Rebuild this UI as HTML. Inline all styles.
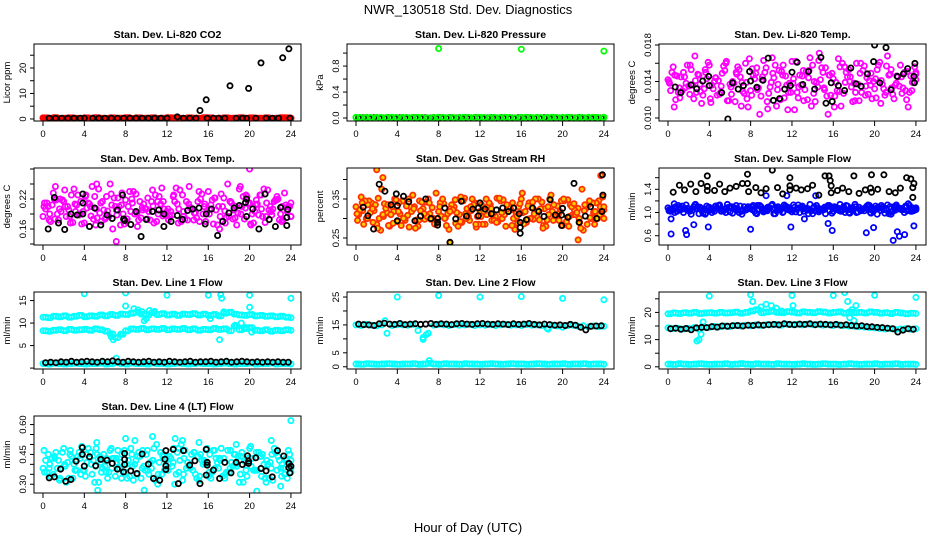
<!DOCTYPE html>
<html><head><meta charset="utf-8">
<style>
html,body{margin:0;padding:0;background:#fff;}
svg{display:block;font-family:"Liberation Sans",Arial,sans-serif;}
</style></head>
<body>
<svg id="chart" width="936" height="540" viewBox="0 0 936 540" xmlns="http://www.w3.org/2000/svg">
<rect width="936" height="540" fill="#fff"/>
<text x="468" y="14" font-size="13" text-anchor="middle">NWR_130518 Std. Dev. Diagnostics</text>
<text x="468" y="532" font-size="13" text-anchor="middle">Hour of Day (UTC)</text>
</svg>
<script>
// ---- time categories ----
const tHalf = []; for (let i = 0; i <= 48; i++) tHalf.push(i / 2);
const tQ = []; for (let i = 0; i < 48; i++) tQ.push(i / 2 + 0.25);
const tC = []; for (let i = 0; i <= 48; i++) tC.push(Math.min(24, i / 2 + 0.15));
const tD = []; for (let i = 0; i <= 48; i++) tD.push(Math.min(24, i / 2 + 0.38));
const tE = []; for (let i = 0; i < 48; i++) tE.push(i / 2 + 0.1);
const xTicks = [0, 4, 8, 12, 16, 20, 24];

// ---- P1 CO2 ----
const co2Red = [0.4,0.3,0.5,0.2,0.3,0.4,0.3,0.2,0.4,0.3,0.5,0.3,0.2,0.4,0.3,0.3,0.5,0.2,0.4,0.3,0.3,0.4,0.2,0.3,0.5,0.4,0.3,0.2,0.4,0.3,0.3,0.5,0.4,0.2,0.3,0.4,0.3,0.3,0.5,0.2,0.4,0.3,0.3,0.4,0.2,0.3,0.5,0.4,0.3];
const co2BlkT = [0.6,1.2,1.8,2.4,3,3.6,4,4.8,5.4,6,6.6,7.2,7.8,8.4,9,9.6,10.2,10.8,11.4,12,13,13.6,14.2,14.8,15.2,15.8,15.9,16.5,17,17.6,18.1,18.7,19.3,19.9,19.7,20.6,21.1,21.6,22.2,22.8,23.2,23.8,23.9];
const co2BlkV = [0.3,0.3,0.3,0.3,0.3,0.3,0.3,0.3,0.3,0.3,0.3,0.3,0.3,0.3,0.3,0.3,0.3,0.3,0.3,0.3,0.8,0.3,0.3,0.3,3.3,7.5,0.3,0.3,0.3,0.3,13,0.3,0.3,12,0.3,0.3,22,0.3,0.3,0.3,24,27.5,0.3];

// ---- P2 Pressure ----
const prGreen = [0.01,0.005,0.01,0.0,0.01,0.005,0.01,0.01,0.0,0.01,0.005,0.01,0.01,0.005,0.0,0.01,0.01,0.005,0.01,0.0,0.01,0.01,0.005,0.01,0.01,0.0,0.01,0.005,0.01,0.01,0.005,0.0,0.01,0.01,0.005,0.01,0.0,0.01,0.01,0.005,0.01,0.01,0.0,0.01,0.005,0.01,0.01,0.005,0.01];
const prBlk = [0.0,0.005,0.0,0.005,0.0,0.0,0.005,0.0,0.005,0.0,0.0,0.005,0.0,0.005,0.0,0.0,0.005,0.0,0.005,0.0,0.0,0.005,0.0,0.005,0.0,0.0,0.005,0.0,0.005,0.0,0.0,0.005,0.0,0.005,0.0,0.0,0.005,0.0,0.005,0.0,0.0,0.005,0.0,0.005,0.0,0.0,0.005,0.0];
const prOutT = [0, 8, 16, 24];
const prOutV = [0.01, 1.07, 1.06, 1.03];

// ---- P3 Temp ----
const tmpA = [.0142,.0156,.0128,.0150,.0135,.0121,.0147,.0132,.0158,.0140,.0126,.0152,.0137,.0118,.0145,.0160,.0130,.0149,.0124,.0155,.0139,.0113,.0151,.0136,.0162,.0128,.0146,.0120,.0158,.0134,.0150,.0104,.0143,.0165,.0127,.0153,.0138,.0119,.0157,.0141,.0132,.0161,.0125,.0148,.0136,.0158,.0130,.0146,.0150];
const tmpB = [.0130,.0120,.0145,.0138,.0153,.0128,.0116,.0143,.0136,.0125,.0149,.0119,.0140,.0156,.0129,.0112,.0147,.0133,.0163,.0127,.0144,.0152,.0122,.0138,.0109,.0147,.0131,.0166,.0118,.0142,.0155,.0125,.0139,.0113,.0150,.0134,.0160,.0128,.0144,.0121,.0153,.0137,.0168,.0126,.0145,.0133,.0112,.0140];
const tmpC = [.0138,.0147,.0122,.0133,.0158,.0141,.0129,.0150,.0117,.0144,.0135,.0162,.0126,.0148,.0139,.0121,.0154,.0131,.0145,.0110,.0149,.0137,.0158,.0128,.0143,.0134,.0119,.0152,.0140,.0171,.0131,.0147,.0124,.0156,.0139,.0145,.0128,.0160,.0135,.0149,.0122,.0141,.0157,.0133,.0146,.0127,.0151,.0139,.0148];
const tmpBlkT = [0.7,1.24,2.24,2.78,3.36,3.94,4.0,5.2,5.8,6.25,6.8,7.3,7.9,8.0,8.6,9.2,9.7,10.2,10.8,11.3,11.85,12.0,12.5,13.05,13.6,14.2,14.8,15.3,15.8,15.9,16.5,17.1,17.7,18.2,18.7,19.3,19.9,20.0,20.5,21.1,21.6,22.2,22.8,23.2,23.8,23.85,23.9];
const tmpBlkV = [.0134,.01278,.01363,.0132,.01405,.01456,.01355,.01278,.00989,.01386,.01317,.01355,.0151,.01405,.01336,.01413,.01656,.01193,.01212,.01317,.01355,.01502,.0161,.01367,.0151,.01317,.01664,.01162,.01386,.01181,.01355,.01301,.01548,.01375,.01347,.01483,.01618,.018,.01386,.01772,.01309,.01456,.01483,.01541,.01456,.01386,.01598];

// ---- P4 Amb Box Temp ----
const ambA = [.185,.205,.232,.178,.215,.198,.240,.188,.172,.210,.225,.192,.180,.250,.205,.168,.218,.195,.230,.182,.200,.215,.175,.242,.195,.188,.210,.228,.178,.200,.215,.190,.235,.170,.205,.222,.185,.198,.240,.180,.212,.195,.228,.173,.205,.218,.190,.208,.212];
const ambB = [.200,.175,.218,.195,.185,.228,.208,.170,.202,.245,.182,.215,.196,.160,.222,.190,.205,.235,.178,.210,.195,.172,.225,.200,.186,.215,.238,.180,.203,.192,.220,.175,.208,.198,.230,.183,.212,.168,.205,.225,.190,.210,.185,.238,.200,.220,.178,.205];
const ambC = [.212,.190,.180,.220,.205,.172,.195,.215,.228,.186,.200,.175,.225,.208,.188,.232,.180,.212,.165,.198,.222,.206,.190,.215,.178,.228,.200,.185,.245,.192,.175,.210,.200,.222,.185,.172,.215,.205,.190,.228,.168,.218,.200,.212,.188,.225,.205,.195,.185];
const ambBlkT = [0.5,1.1,1.5,2.1,2.7,3.3,3.85,3.85,3.85,4.5,5.0,5.6,6.2,6.7,7.2,7.7,7.8,7.9,8.5,9.0,9.5,10.0,10.6,11.2,11.7,11.7,12.4,13.0,13.5,14.0,14.5,15.1,15.7,15.8,16.3,16.9,17.4,18.0,18.5,19.0,19.6,19.7,19.7,20.3,20.9,21.5,21.9,22.5,23.0,23.7,23.6,23.6];
const ambBlkV = [.160,.223,.172,.159,.190,.188,.230,.212,.190,.165,.202,.168,.188,.181,.198,.228,.180,.177,.169,.195,.145,.179,.195,.198,.190,.165,.175,.187,.179,.197,.200,.202,.170,.190,.200,.147,.175,.192,.202,.207,.213,.185,.220,.200,.160,.230,.179,.165,.203,.199,.183,.167];
const ambOutT = [20.0, 7.1, 5.2, 1.2];
const ambOutV = [.280, .135, .250, .245];

// ---- P5 Gas Stream RH ----
const rhA = [.330,.355,.300,.340,.285,.375,.315,.330,.292,.345,.308,.360,.280,.325,.350,.300,.318,.338,.272,.330,.310,.352,.295,.340,.318,.285,.335,.305,.345,.280,.322,.312,.350,.290,.328,.305,.342,.296,.318,.332,.282,.348,.310,.326,.270,.335,.315,.345,.322];
const rhB = [.310,.285,.345,.320,.300,.338,.280,.350,.312,.295,.330,.275,.320,.342,.298,.365,.306,.282,.335,.315,.290,.325,.350,.305,.285,.330,.312,.292,.348,.318,.300,.330,.286,.340,.312,.296,.325,.350,.300,.318,.288,.335,.310,.275,.325,.300,.340,.312];
const rhC = [.295,.320,.335,.290,.352,.305,.282,.318,.340,.300,.278,.330,.345,.298,.312,.285,.340,.302,.325,.288,.355,.300,.320,.278,.335,.310,.295,.352,.300,.325,.340,.288,.315,.332,.298,.350,.282,.310,.335,.295,.345,.305,.322,.290,.335,.302,.318,.330,.300];
const rhBlkT = [0.7,1.15,1.7,2.25,2.8,3.4,3.9,4.0,4.0,4.6,5.1,5.7,6.25,6.75,7.25,7.9,7.9,7.9,8.6,9.1,9.65,10.2,10.7,11.3,11.85,12.0,11.85,12.5,13.1,13.6,14.2,14.75,15.25,15.8,15.9,15.9,15.9,16.5,17.1,17.7,18.2,18.8,19.3,19.9,20.0,19.9,20.5,21.1,21.6,22.2,22.7,23.3,23.85,23.9,23.8];
const rhBlkV = [.329,.307,.273,.388,.370,.335,.363,.333,.294,.357,.343,.294,.306,.350,.300,.300,.290,.283,.327,.239,.299,.344,.306,.324,.327,.340,.307,.324,.312,.322,.327,.318,.327,.312,.290,.277,.262,.297,.327,.318,.305,.348,.309,.309,.326,.282,.303,.390,.290,.306,.330,.300,.412,.360,.318];
const rhOutT = [2.0, 23.7, 2.6, 9.1, 21.5];
const rhOutV = [.425, .410, .405, .238, .245];

// ---- P6 Sample Flow ----
const sfA = [1.08,1.04,1.12,1.00,1.06,1.10,0.98,1.05,1.09,1.02,1.13,1.06,1.01,1.08,1.11,1.04,1.07,0.99,1.10,1.05,1.12,1.03,1.07,1.09,1.01,1.06,1.11,1.04,0.98,1.08,1.05,1.12,1.02,1.07,1.10,1.00,1.06,1.09,1.03,1.12,1.05,1.08,0.99,1.10,1.04,1.07,1.11,1.02,1.06];
const sfB = [1.02,1.10,1.05,1.13,0.97,1.07,1.04,1.11,1.00,1.08,1.05,1.14,0.99,1.06,1.03,1.10,1.12,1.05,1.01,1.08,0.98,1.06,1.13,1.04,1.09,1.00,1.07,1.14,1.03,1.06,0.98,1.10,1.05,1.02,1.12,1.08,1.00,1.06,1.11,1.04,0.97,1.09,1.13,1.02,1.07,1.05,1.15,1.03];
const sfC = [1.05,1.00,1.09,1.06,1.03,1.14,1.08,0.99,1.06,1.11,1.02,1.08,1.10,1.04,0.97,1.07,1.05,1.12,1.03,1.09,1.06,1.10,1.01,1.05,1.13,1.08,1.02,1.06,1.10,1.04,1.09,1.03,1.07,1.14,1.00,1.05,1.10,1.03,1.08,0.99,1.07,1.12,1.05,1.01,1.10,1.06,1.03,1.08,1.05];
const sfOutT = [0.3,0.3,1.7,1.8,2.5,3.9,8.0,11.9,13.2,14.3,15.5,15.9,19.2,19.9,21.8,22.2,22.4,22.9,23.8,9.5,11.5];
const sfOutV = [0.63,0.89,0.69,0.62,0.79,0.75,0.71,0.75,0.89,1.29,0.81,0.69,0.65,0.74,0.52,0.67,0.59,0.62,0.77,1.29,1.29];
const sfBlkT = [0.5,1.1,1.6,2.2,2.7,3.2,3.8,3.8,3.8,4.5,5.0,5.5,6.0,6.6,7.2,7.7,7.7,7.8,8.5,9.0,9.5,10.1,10.6,11.1,11.8,11.8,11.8,12.4,12.9,13.5,14.0,14.6,15.2,15.6,15.7,15.8,15.8,16.4,16.9,17.5,18.0,18.5,19.1,19.6,19.7,19.7,20.3,20.9,21.4,22.0,22.5,23.1,23.5,23.7,23.8,23.7];
const sfBlkV = [1.35,1.47,1.39,1.49,1.36,1.50,1.45,1.63,1.38,1.38,1.49,1.36,1.42,1.45,1.50,1.66,1.50,1.36,1.43,1.34,1.41,1.73,1.43,1.32,1.60,1.46,1.39,1.42,1.39,1.41,1.47,1.30,1.63,1.63,1.55,1.46,1.34,1.38,1.42,1.36,1.63,1.33,1.39,1.42,1.65,1.35,1.40,1.65,1.36,1.34,1.42,1.60,1.58,1.26,1.50,1.43];

// ---- P7 Line 1 ----
const l1Up = [11.3,11.2,11.5,11.4,11.6,11.3,11.5,11.7,11.4,11.6,11.5,11.8,11.6,11.9,11.7,12.0,11.9,12.2,12.4,12.0,11.8,12.3,11.9,12.1,11.8,12.0,11.7,12.0,11.9,12.1,11.8,12.0,11.7,11.9,11.6,12.2,12.4,12.0,11.8,11.7,11.9,11.6,11.7,11.5,11.6,11.4,11.5,11.3,11.2];
const l1Mid = [8.3,8.2,8.4,8.5,8.3,8.6,8.4,8.5,8.6,8.4,8.7,8.5,8.2,7.6,6.8,7.5,8.3,8.7,8.6,8.8,8.5,8.7,8.6,8.8,8.5,8.7,8.6,8.8,8.5,8.7,8.4,8.6,8.5,8.8,8.6,8.7,8.3,9.3,8.5,8.8,9.0,8.4,8.3,8.5,8.2,8.4,8.3,8.5,8.4];
const l1Low = [1.0,0.9,1.1,1.0,0.9,1.0,1.1,1.0,0.9,1.0,1.0,1.1,0.9,1.0,1.2,1.0,0.9,1.1,1.0,1.0,0.9,1.1,1.0,1.0,0.9,1.0,1.1,1.0,0.9,1.0,1.1,1.0,1.0,0.9,1.0,1.1,1.0,0.9,1.0,1.0,1.1,0.9,1.0,1.0,1.1,0.9,1.0,1.0,0.9];
const l1Blk = [1.2,1.3,1.2,1.4,1.3,1.5,1.3,1.4,1.5,1.4,1.3,1.5,1.4,1.6,1.4,1.3,1.5,1.4,1.3,1.4,1.5,1.3,1.4,1.3,1.5,1.4,1.3,1.4,1.5,1.3,1.4,1.4,1.5,1.3,1.4,1.5,1.3,1.4,1.5,1.4,1.3,1.4,1.3,1.4,1.3,1.4,1.3,1.3];
const l1OutT = [4,8,12,16,17.2,17.3,20,24,17.1,8,7.1,20,8.8,9.2,9.6,10,10.3,10.8,9.8,16.2,17.5,18.6,19.2,19.6,20.2,6.6,7.6,6.8];
const l1OutV = [16.5,16.7,16.2,16.2,16.3,15.5,16.2,15.5,6.3,13.8,2.2,13.5,13.2,12.9,12.5,11,12.8,12.6,10.5,11,12.5,9.5,10,9,8,7,7.5,6.3];

// ---- P8 Line 2 ----
const l2Up = [15.0,14.8,15.2,14.9,14.7,15.0,12.0,14.8,15.1,15.0,14.9,15.2,13.0,10.5,12.0,14.9,15.2,15.0,14.8,15.1,14.9,15.0,15.2,14.8,15.0,14.9,15.1,14.8,15.0,15.2,14.9,15.0,14.8,15.1,14.9,15.0,14.8,13.8,14.9,14.6,14.2,14.8,14.9,14.5,14.7,14.3,14.6,14.4,14.5];
const l2Low = [1.0,0.9,1.1,1.0,0.9,1.0,1.1,1.0,0.9,1.0,1.0,1.1,0.9,1.0,1.2,1.0,0.9,1.1,1.0,1.0,0.9,1.1,1.0,1.0,0.9,1.0,1.1,1.0,0.9,1.0,1.1,1.0,1.0,0.9,1.0,1.1,1.0,0.9,1.0,1.0,1.1,0.9,1.0,1.0,1.1,0.9,1.0,1.0,0.9];
const l2Blk = [15.3,15.1,15.0,14.8,15.4,15.6,15.3,15.2,15.5,15.1,15.3,15.4,15.2,15.3,15.5,15.2,15.4,15.3,15.1,15.4,15.5,15.3,15.2,15.4,15.5,15.3,15.2,15.4,15.3,15.1,15.4,15.2,15.3,15.5,15.2,15.0,15.3,15.1,14.9,15.0,14.8,15.2,14.9,14.2,13.2,14.5,14.6,14.7];
const l2OutT = [4,8,12,16,20,24,7.1,2.8,18.6,6.5,6.8];
const l2OutV = [25,25.5,25,25.2,24.5,24,2.2,16.5,13.5,9.8,11.5];

// ---- P9 Line 3 ----
const l3Up = [19.5,19.8,19.6,19.9,19.7,20.0,19.6,19.8,19.9,19.7,20.0,19.8,19.9,20.1,19.7,20.0,20.5,21.0,19.9,20.2,20.4,20.0,19.9,20.3,20.1,19.8,20.2,20.0,19.9,20.3,20.1,19.8,20.0,20.2,19.7,20.1,19.9,20.0,19.8,20.2,20.0,19.7,19.9,19.6,20.0,19.8,19.5,19.7,19.6];
const l3Mid = [14.3,14.0,14.2,13.9,14.1,14.4,13.8,14.6,14.5,14.9,14.7,15.0,14.8,15.2,15.0,15.3,15.1,15.4,15.2,15.5,15.4,15.6,15.3,15.7,15.5,15.6,15.4,15.7,15.5,15.6,15.3,15.5,15.2,15.4,15.1,15.0,14.9,14.7,14.6,14.4,14.3,14.1,13.9,14.0,13.7,13.9,14.0,13.8,14.0];
const l3Low = [1.0,0.9,1.1,1.0,0.9,1.0,1.1,1.0,0.9,1.0,1.0,1.1,0.9,1.0,1.2,1.0,0.9,1.1,1.0,1.0,0.9,1.1,1.0,1.0,0.9,1.0,1.1,1.0,0.9,1.0,1.1,1.0,1.0,0.9,1.0,1.1,1.0,0.9,1.0,1.0,1.1,0.9,1.0,1.0,1.1,0.9,1.0,1.0,0.9];
const l3Blk = [14.0,14.2,13.8,14.1,13.6,14.3,14.5,14.4,14.8,14.6,15.0,14.9,15.1,15.2,15.0,15.3,15.2,15.4,15.3,15.5,15.6,15.4,15.8,15.6,15.5,15.7,15.6,15.8,15.5,15.7,15.6,15.4,15.6,15.3,15.5,15.2,15.0,15.1,14.8,14.7,14.5,14.4,14.2,14.0,12.8,13.5,14.0,13.8];
const l3OutT = [4,8,12,16,17.1,20,24,8.2,8.5,9,9.5,10,10.5,11,17.4,17.8,18.2,17.6,18,3,3.2,3.4,2.8,12.1];
const l3OutV = [26,26.5,26.2,26.2,27.3,26.3,25.5,24,21,22,23,22.5,21.5,20.5,24,21,22.5,18,17,10,12,16.5,9.5,22.5];

// ---- P10 Line 4 ----
const l4A = [.38,.45,.35,.42,.48,.33,.40,.46,.37,.43,.31,.44,.39,.47,.34,.41,.36,.48,.42,.33,.45,.38,.50,.35,.43,.39,.46,.32,.41,.37,.44,.40,.34,.47,.38,.43,.36,.45,.31,.42,.48,.37,.44,.33,.41,.46,.38,.43,.36];
const l4B = [.42,.34,.46,.38,.31,.44,.37,.49,.41,.35,.45,.38,.33,.43,.47,.36,.42,.32,.46,.39,.35,.48,.41,.37,.44,.30,.42,.47,.38,.35,.45,.40,.33,.43,.48,.36,.41,.39,.46,.34,.43,.37,.45,.40,.32,.44,.38,.47];
const l4C = [.36,.40,.43,.33,.39,.47,.42,.35,.45,.40,.48,.36,.43,.38,.41,.45,.33,.39,.44,.47,.37,.42,.35,.45,.40,.48,.36,.43,.39,.46,.34,.41,.45,.38,.42,.35,.47,.40,.44,.37,.39,.46,.34,.42,.45,.37,.40,.33,.42];
const l4OutT = [24,5.3,9.8,20.7,23,8.9,8,12.8,13.5,10.6,15.1,22.1,18.7,5.2];
const l4OutV = [.62,.27,.27,.265,.29,.52,.53,.53,.52,.54,.51,.52,.50,.51];
const l4BlkT = [0.6,1.1,1.7,2.2,2.7,3.2,3.8,3.8,4.0,4.5,5.1,5.6,6.2,6.7,7.2,7.8,7.9,7.9,7.9,8.5,9.1,9.6,10.2,10.7,11.3,11.8,11.9,11.9,11.9,12.6,13.1,13.6,14.2,14.7,15.2,15.8,15.8,15.9,15.9,16.5,17.1,17.6,18.2,18.7,19.3,19.8,19.9,19.9,20.6,21.1,21.6,22.2,22.7,23.3,23.8,23.8,23.9,24.0];
const l4BlkV = [.332,.337,.376,.315,.324,.416,.484,.450,.391,.438,.393,.425,.421,.405,.376,.362,.425,.455,.399,.367,.354,.452,.401,.329,.320,.426,.469,.393,.374,.475,.303,.469,.396,.418,.303,.346,.475,.410,.396,.371,.329,.410,.357,.410,.399,.443,.416,.405,.433,.379,.367,.337,.469,.442,.405,.383,.357,.391];

// ---- layout ----
const NS = "http://www.w3.org/2000/svg";
const svg = document.getElementById('chart');
const colL = [34, 347, 659], rowT = [44, 168, 292, 416], W = 267, H = 77;
const MAG = "#ff00ff", CY = "#00ffff", BL = "#0000ff", GR = "#00ff00", RD = "#ff0000", BK = "#000000", OR = "#ff3000", YE = "#ffd000";

const panels = [
  {name:'co2', title:'Stan. Dev. Li-820 CO2', ylab:'Licor ppm', c:0, r:0, ymin:-0.8, ymax:29.4, ticks:[0,5,10,15,20,25], labels:[0,10,20], fmt:v=>String(v),
   series:[[tHalf,co2Red,RD,'red-points',RD],[tC,co2Red,RD,'red-points-b',RD],[tD,co2Red,RD,'red-points-c',RD],[co2BlkT,co2BlkV,BK,'black-points']]},
  {name:'pressure', title:'Stan. Dev. Li-820 Pressure', ylab:'kPa', c:1, r:0, ymin:-0.046, ymax:1.14, ticks:[0,0.2,0.4,0.6,0.8,1.0], labels:[0,0.4,0.8], fmt:v=>v.toFixed(1),
   series:[[tHalf,prGreen,GR,'green-points'],[tQ,prBlk,BK,'black-points'],[tD,prGreen,GR,'green-points-b'],[prOutT,prOutV,GR,'green-outliers']]},
  {name:'temp', title:'Stan. Dev. Li-820 Temp.', ylab:'degrees C', c:2, r:0, ymin:0.00967, ymax:0.01811, ticks:[0.010,0.012,0.014,0.016,0.018], labels:[0.010,0.014,0.018], fmt:v=>v.toFixed(3),
   series:[[tHalf,tmpA,MAG,'magenta-a'],[tQ,tmpB,MAG,'magenta-b'],[tC,tmpC,MAG,'magenta-c'],[tD,tmpA.slice().reverse(),MAG,'magenta-d'],[tE,tmpB.slice().reverse(),MAG,'magenta-e'],[tmpBlkT,tmpBlkV,BK,'black-points']]},
  {name:'amb-box', title:'Stan. Dev. Amb. Box Temp.', ylab:'degrees C', c:0, r:1, ymin:0.128, ymax:0.282, ticks:[0.13,0.16,0.19,0.22,0.25,0.28], labels:[0.16,0.22], fmt:v=>v.toFixed(2),
   series:[[tHalf,ambA,MAG,'magenta-a'],[tQ,ambB,MAG,'magenta-b'],[tC,ambC,MAG,'magenta-c'],[tD,ambA.slice().reverse(),MAG,'magenta-d'],[tE,ambB.slice().reverse(),MAG,'magenta-e'],[ambOutT,ambOutV,MAG,'magenta-outliers'],[ambBlkT,ambBlkV,BK,'black-points']]},
  {name:'gas-rh', title:'Stan. Dev. Gas Stream RH', ylab:'percent', c:1, r:1, ymin:0.232, ymax:0.4295, ticks:[0.25,0.30,0.35,0.40], labels:[0.25,0.35], fmt:v=>v.toFixed(2),
   series:[[tHalf,rhA,OR,'orange-a',YE],[tQ,rhB,OR,'orange-b',YE],[tC,rhC,OR,'orange-c',YE],[tD,rhA.slice().reverse(),OR,'orange-d',YE],[tE,rhB.slice().reverse(),OR,'orange-e',YE],[rhOutT,rhOutV,OR,'orange-outliers',YE],[rhBlkT,rhBlkV,BK,'black-points']]},
  {name:'sample-flow', title:'Stan. Dev. Sample Flow', ylab:'ml/min', c:2, r:1, ymin:0.44, ymax:1.767, ticks:[0.6,0.8,1.0,1.2,1.4,1.6], labels:[0.6,1.0,1.4], fmt:v=>v.toFixed(1),
   series:[[tHalf,sfA,BL,'blue-a'],[tQ,sfB,BL,'blue-b'],[tC,sfC,BL,'blue-c'],[tD,sfA.slice().reverse(),BL,'blue-d'],[tE,sfB.slice().reverse(),BL,'blue-e'],[sfOutT,sfOutV,BL,'blue-outliers'],[sfBlkT,sfBlkV,BK,'black-points']]},
  {name:'line1', title:'Stan. Dev. Line 1 Flow', ylab:'ml/min', c:0, r:2, ymin:-0.2, ymax:16.9, ticks:[0,5,10,15], labels:[5,10,15], fmt:v=>String(v),
   series:[[tHalf,l1Up,CY,'cyan-upper'],[tQ,l1Up,CY,'cyan-upper-b'],[tHalf,l1Mid,CY,'cyan-middle'],[tQ,l1Mid,CY,'cyan-middle-b'],[tHalf,l1Low,CY,'cyan-lower'],[tQ,l1Low,CY,'cyan-lower-b'],[l1OutT,l1OutV,CY,'cyan-outliers'],[tQ,l1Blk,BK,'black-points']]},
  {name:'line2', title:'Stan. Dev. Line 2 Flow', ylab:'ml/min', c:1, r:2, ymin:-0.8, ymax:26.8, ticks:[0,5,10,15,20,25], labels:[0,5,15,25], fmt:v=>String(v),
   series:[[tHalf,l2Up,CY,'cyan-upper'],[tHalf,l2Low,CY,'cyan-lower'],[tQ,l2Low,CY,'cyan-lower-b'],[l2OutT,l2OutV,CY,'cyan-outliers'],[tQ,l2Blk,BK,'black-points']]},
  {name:'line3', title:'Stan. Dev. Line 3 Flow', ylab:'ml/min', c:2, r:2, ymin:-0.8, ymax:27.5, ticks:[0,5,10,15,20,25], labels:[0,10,20], fmt:v=>String(v),
   series:[[tHalf,l3Up,CY,'cyan-upper'],[tQ,l3Up,CY,'cyan-upper-b'],[tHalf,l3Mid,CY,'cyan-middle'],[tHalf,l3Low,CY,'cyan-lower'],[tQ,l3Low,CY,'cyan-lower-b'],[l3OutT,l3OutV,CY,'cyan-outliers'],[tQ,l3Blk,BK,'black-points']]},
  {name:'line4', title:'Stan. Dev. Line 4 (LT) Flow', ylab:'ml/min', c:0, r:3, ymin:0.256, ymax:0.643, ticks:[0.30,0.35,0.40,0.45,0.50,0.55,0.60], labels:[0.30,0.45,0.60], fmt:v=>v.toFixed(2),
   series:[[tHalf,l4A,CY,'cyan-a'],[tQ,l4B,CY,'cyan-b'],[tC,l4C,CY,'cyan-c'],[tD,l4A.slice().reverse(),CY,'cyan-d'],[tE,l4B.slice().reverse(),CY,'cyan-e'],[l4OutT,l4OutV,CY,'cyan-outliers'],[l4BlkT,l4BlkV,BK,'black-points']]}
];

function mk(tag, attrs, parent) {
  const e = document.createElementNS(NS, tag);
  for (const k in attrs) e.setAttribute(k, attrs[k]);
  parent.appendChild(e);
  return e;
}

panels.forEach(p => {
  const L = colL[p.c], T = rowT[p.r];
  const sx = t => L + 9 + t * 10.33;
  const sy = v => T + (p.ymax - v) / (p.ymax - p.ymin) * H;
  const g = mk('g', {}, svg);
  
  

  const title = mk('text', {x: L + W / 2, y: T - 6, 'font-size': 10.5, 'font-weight': 'bold', 'text-anchor': 'middle'}, g);
  title.textContent = p.title;
  
  

  const clipId = 'clip-' + p.name;
  const cp = mk('clipPath', {id: clipId}, g);
  mk('rect', {x: L, y: T, width: W, height: H}, cp);
  const pts = mk('g', {'clip-path': 'url(#' + clipId + ')'}, g);
  
  

  p.series.forEach(s => {
    const [ts, vs, col, nm, fill] = s;
    const sg = mk('g', {}, pts);
    
    
    for (let i = 0; i < vs.length && i < ts.length; i++) {
      const c = mk('circle', {cx: sx(ts[i]).toFixed(1), cy: sy(vs[i]).toFixed(1), r: 2.6, fill: fill || 'none', stroke: col, 'stroke-width': 1.8}, sg);
      
      
    }
  });

  const box = mk('rect', {x: L, y: T, width: W, height: H, fill: 'none', stroke: '#000', 'stroke-width': 1}, g);
  
  

  xTicks.forEach(t => {
    const x = sx(t);
    const tk = mk('line', {x1: x, x2: x, y1: T + H, y2: T + H + 5, stroke: '#000'}, g);
    
    
    const lb = mk('text', {x: x, y: T + H + 16, 'font-size': 9.5, 'text-anchor': 'middle'}, g);
    lb.textContent = String(t);
    
    
  });

  p.ticks.forEach(v => {
    const y = sy(v);
    const tk = mk('line', {x1: L - 4, x2: L, y1: y, y2: y, stroke: '#000'}, g);
    
    
  });
  p.labels.forEach(v => {
    const y = sy(v);
    const lb = mk('text', {x: L - 8, y: y, 'font-size': 9.5, 'text-anchor': 'middle', transform: 'rotate(-90 ' + (L - 8) + ' ' + y + ')'}, g);
    lb.textContent = p.fmt(v);
    
    
  });
  const yl = L - 24, ym = T + H / 2;
  const ylab = mk('text', {x: yl, y: ym, 'font-size': 9.5, 'text-anchor': 'middle', transform: 'rotate(-90 ' + yl + ' ' + ym + ')'}, g);
  ylab.textContent = p.ylab;
  
  
});
</script>
</body></html>
